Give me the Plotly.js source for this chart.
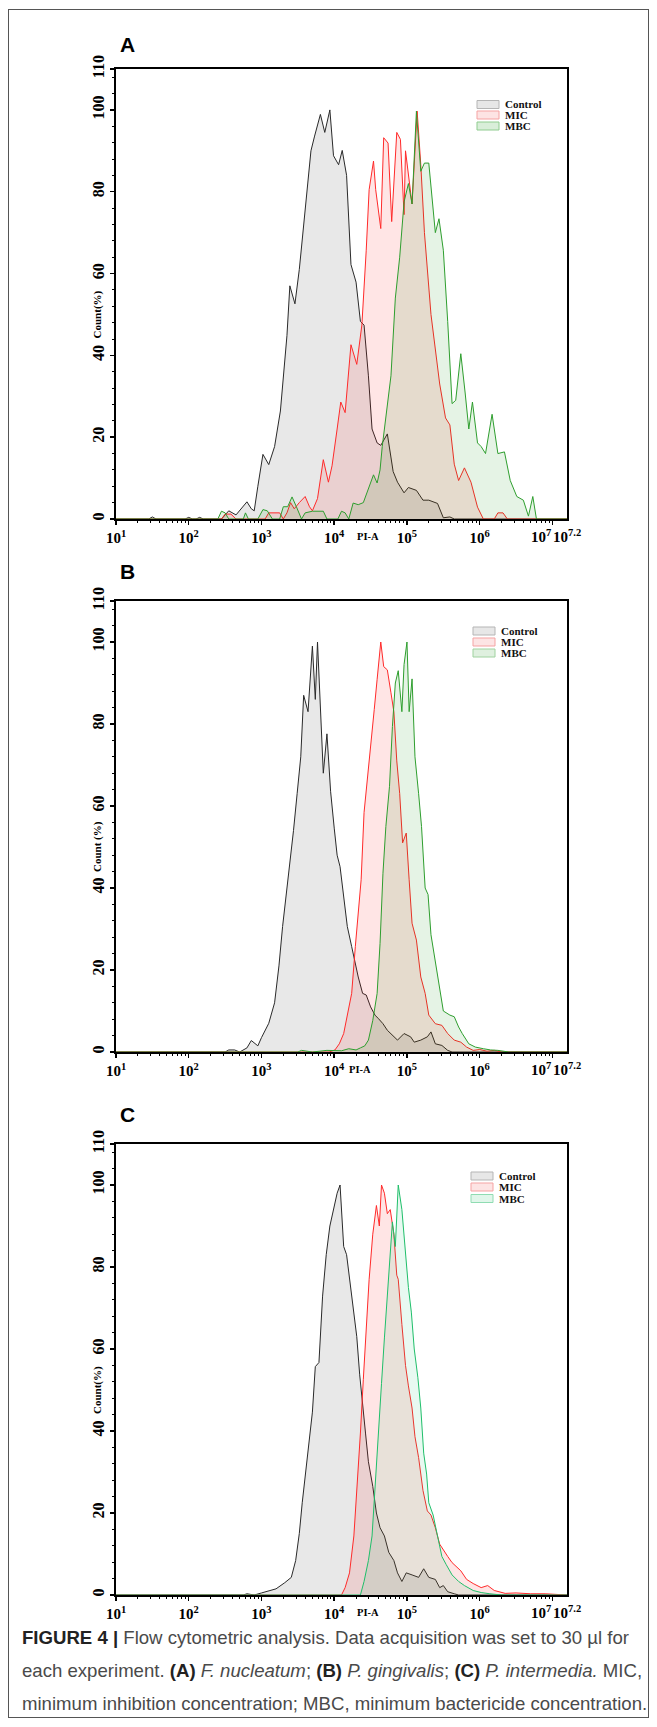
<!DOCTYPE html>
<html><head><meta charset="utf-8">
<script src="https://cdn.plot.ly/plotly-3.0.1.min.js"></script>
<style>
html,body{margin:0;padding:0;background:#fff;}
#wrap{position:relative;width:657px;height:1727px;overflow:hidden;background:#fff;}
#chart{position:absolute;left:0;top:0;width:657px;height:1727px;}
#frame{position:absolute;left:8px;top:9px;width:641px;height:1709px;border:1px solid #555;box-sizing:border-box;pointer-events:none;}
#caption{position:absolute;left:22px;top:1621px;font-family:'Liberation Sans',Arial,sans-serif;font-size:18.6px;line-height:33px;color:#4a4a4a;white-space:nowrap;}
#caption b{color:#222;}
</style></head>
<body><div id="wrap"><div id="chart"></div><div id="frame"></div>
<div id="caption"><b>FIGURE 4 |</b> Flow cytometric analysis. Data acquisition was set to 30 µl for<br>each experiment. <b>(A)</b> <i>F. nucleatum</i>; <b>(B)</b> <i>P. gingivalis</i>; <b>(C)</b> <i>P. intermedia.</i> MIC,<br>minimum inhibition concentration; MBC, minimum bactericide concentration.</div>
</div>
<script>
// ---------- data (x in log10 PI-A units, y in Count %) ----------
const seriesNames = ['Control', 'MIC', 'MBC'];
const panelLetters = ['A', 'B', 'C'];
const yTitles = ['Count(%)', 'Count (%)', 'Count(%)'];
const xTickExps = [1, 2, 3, 4, 5, 6, 7];
const xTickText = ['10<sup>1</sup>', '10<sup>2</sup>', '10<sup>3</sup>', '10<sup>4</sup>', '10<sup>5</sup>', '10<sup>6</sup>', ''];
const xEndLabels = ['10<sup>7</sup>', '10<sup>7.2</sup>'];
const yTickVals = [0, 20, 40, 60, 80, 100, 110];

const A_ctrl_x = [1.0,1.45,1.5,1.55,1.95,2.0,2.05,2.1,2.15,2.2,2.45,2.5,2.55,2.65,2.75,2.8,2.86,2.9,2.95,3.02,3.1,3.18,3.26,3.35,3.39,3.46,3.52,3.6,3.68,3.73,3.81,3.87,3.94,3.99,4.06,4.11,4.17,4.23,4.3,4.36,4.41,4.47,4.52,4.59,4.64,4.73,4.81,4.87,4.96,5.02,5.13,5.22,5.3,5.42,5.5,5.59,5.65,7.2];
const A_ctrl_y = [0,0,0.5,0,0,0.4,0,0,0.4,0,0,1,2,1,3,4.2,2.5,2,8,15.8,13.3,17.7,26.4,44.8,57,52.6,61,75,90,93.6,98.9,94.5,100,88.8,86.6,90.1,84,62.2,57.9,48.3,47.4,35,22,18.6,18,20.8,11.6,9,6.4,7.7,7,4.6,4.6,3.8,0.3,0.5,0,0];
const A_mic_x = [1.0,2.45,2.5,2.58,2.65,3.05,3.1,3.25,3.3,3.35,3.4,3.45,3.52,3.6,3.66,3.7,3.77,3.85,3.92,3.97,4.04,4.09,4.15,4.23,4.31,4.38,4.44,4.48,4.54,4.57,4.64,4.68,4.74,4.79,4.86,4.91,4.96,4.98,5.07,5.14,5.19,5.24,5.33,5.45,5.53,5.59,5.65,5.71,5.79,5.88,5.97,6.05,6.2,6.25,6.32,6.38,7.2];
const A_mic_y = [0,0,1.2,1.2,0,0,1.5,1.5,0,1.5,4,2.5,4,5.5,3,2,5,14.5,9,13,22,28.6,26,42.6,37.8,47.4,65.7,80.5,87.5,80.5,71,93.2,91.9,72.7,94.5,92.8,74.4,90,77,99.7,86.6,70,50,33,24.7,23,13.4,9.4,12.5,9,2.9,0,0,1.5,1.5,0,0];
const A_mbc_x = [1.0,2.4,2.45,2.5,2.55,2.75,2.78,2.82,2.95,3.02,3.08,3.15,3.25,3.3,3.36,3.42,3.48,3.55,3.6,3.7,3.85,3.9,4.05,4.1,4.15,4.2,4.26,4.33,4.4,4.47,4.54,4.59,4.63,4.66,4.73,4.78,4.84,4.9,4.96,5.02,5.07,5.13,5.19,5.24,5.3,5.39,5.44,5.5,5.56,5.62,5.67,5.74,5.8,5.85,5.9,5.97,6.02,6.08,6.17,6.25,6.34,6.42,6.51,6.6,6.67,6.73,6.78,7.2];
const A_mbc_y = [0,0,1.9,1.5,0,0,1.5,0,0,2.3,2,0,0,3,3,5.4,3,0,1.5,1.9,1.9,0,0,1.9,1.5,0,3.9,3.5,4,7.6,10.8,8.8,12,17.7,27,35,54,64,77.5,82,77,99.7,85,87,87,70,73.4,65.7,48.3,28.2,29,40.4,30.8,22,28.6,18.6,17.7,16,25.6,16,16.4,9.4,5.5,4.6,0.7,5.5,0,0];

const B_ctrl_x = [1.0,2.5,2.55,2.63,2.7,2.8,2.86,2.95,3.0,3.1,3.18,3.24,3.29,3.38,3.44,3.49,3.54,3.58,3.64,3.7,3.74,3.77,3.81,3.85,3.9,3.95,4.0,4.04,4.08,4.13,4.18,4.24,4.29,4.33,4.39,4.44,4.5,4.56,4.61,4.67,4.73,4.78,4.87,4.96,5.05,5.1,5.19,5.28,5.33,5.39,5.48,5.56,5.62,7.2];
const B_ctrl_y = [0,0,0.5,0.5,0,1,2.8,1.5,3.5,7,12,21,30.6,44.4,54,63,72,87,83,99,86,100,83.7,68,77.6,63.6,54.6,48,45.2,37.9,30.6,25.7,21.6,18.3,14.3,13.9,11,9,8.1,6.9,5.3,4.5,2.9,4.5,3.7,2.4,2.9,3.7,4.9,2,1.6,0.4,0,0];
const B_mic_x = [1.0,3.93,4.01,4.07,4.13,4.18,4.24,4.29,4.33,4.37,4.41,4.46,4.5,4.55,4.59,4.62,4.64,4.68,4.73,4.78,4.82,4.86,4.9,4.94,4.99,5.03,5.07,5.13,5.19,5.25,5.3,5.39,5.48,5.56,5.65,5.74,5.82,5.91,6.0,6.1,6.2,6.3,7.2];
const B_mic_y = [0,0,0.5,2,4.5,8.6,14.3,25.7,33.8,42,58.4,68,74.6,83.5,90.9,95.8,100,94,93.2,87.6,83,71,63,51,53.4,42,31.4,27.3,18.3,14.3,9,6.9,6.5,4.5,2.9,2.4,1.2,0.4,0.6,0.2,0.4,0,0];
const B_mbc_x = [1.0,3.5,3.55,3.7,3.9,4.1,4.2,4.3,4.36,4.42,4.47,4.53,4.59,4.63,4.67,4.71,4.76,4.8,4.84,4.88,4.93,4.96,5.0,5.03,5.07,5.11,5.16,5.2,5.25,5.29,5.33,5.39,5.45,5.5,5.59,5.65,5.71,5.76,5.85,5.94,6.05,6.15,6.25,6.4,7.2];
const B_mbc_y = [0,0,0.4,0,0.4,0.3,0.8,0.5,1,1.5,2.9,7.7,14.3,26.5,43.6,55,64.8,79.4,90,93,83,94.5,100,83,91,72,63,55,40,38.4,28.6,22,15,10,9,8.6,6.1,4.5,2,1.2,0.8,0.5,0.4,0,0];

const C_ctrl_x = [1.0,2.75,2.8,2.9,3.0,3.09,3.2,3.32,3.41,3.47,3.52,3.56,3.64,3.7,3.74,3.79,3.84,3.89,3.94,3.98,4.04,4.08,4.13,4.17,4.23,4.27,4.31,4.35,4.39,4.43,4.47,4.53,4.58,4.63,4.69,4.75,4.82,4.87,4.93,4.99,5.07,5.16,5.23,5.3,5.39,5.45,5.5,5.56,5.65,5.71,7.2];
const C_ctrl_y = [0,0,0.3,0,0.5,1,1.5,3,4.3,8.4,15,22.5,34.6,44.6,55.7,56.7,72.9,83,90,93.5,98,100,85,83,75,69,63,53.7,45.6,39.5,32.5,26.5,20,16.4,14.4,10.4,8.4,5.4,3.3,5.4,4.9,4.3,6.4,4.3,3.8,1.8,2.3,0.8,0.3,0,0];
const C_mic_x = [1.0,4.1,4.15,4.21,4.27,4.31,4.36,4.4,4.44,4.48,4.53,4.58,4.62,4.65,4.69,4.73,4.77,4.82,4.86,4.88,4.93,4.98,5.02,5.07,5.11,5.16,5.22,5.28,5.33,5.39,5.45,5.5,5.56,5.62,5.68,5.74,5.82,5.91,6.02,6.11,6.2,6.35,6.5,6.7,6.9,7.2];
const C_mic_y = [0,0,1.8,5.4,14.4,24.5,39.5,52.6,65,77,88,95,90,100,98,93,94,88,78,77,66,56,51,45.6,38.6,33.5,25.5,20.5,19.5,16.4,12.4,10.9,9.4,7.9,6.9,5.9,3.8,2.8,1.8,2.3,1.1,0.4,0.5,0.3,0.3,0];
const C_mbc_x = [1.0,4.36,4.41,4.47,4.52,4.56,4.61,4.65,4.69,4.73,4.77,4.8,4.84,4.88,4.93,4.97,5.02,5.06,5.1,5.15,5.19,5.23,5.27,5.3,5.36,5.42,5.48,5.54,5.62,5.71,5.79,5.91,6.02,6.14,6.3,7.2];
const C_mbc_y = [0,0,3.3,8.4,14.4,26.5,39.5,51.6,62.7,72.9,82,91,85,100,94,85,75,69,60,53,45.6,34.6,29.5,22.5,19.5,14.4,9.4,7.4,4.9,3.3,2.3,1.1,0.6,0.3,0,0];

// ---------- styling / layout ----------
const W = 657, H = 1727;
const fx = p => p / W, fy = p => 1 - p / H;
const plotL = 116, plotR = 567;
const panels = [
  {top: 69, bot: 519, letterY: 45, piA: 4.47, leg: {x: 477, rows: [35.5, 46, 57]},
   data: [[A_ctrl_x, A_ctrl_y], [A_mic_x, A_mic_y], [A_mbc_x, A_mbc_y]], mbcLine: '#2e9e2e', mbcFill: 'rgba(0,140,0,0.10)', mbcSw: '#d9eed9', mbcSwL: '#8fcc8f'},
  {top: 601, bot: 1052, letterY: 572, piA: 4.36, leg: {x: 473, rows: [30, 41, 52]},
   data: [[B_ctrl_x, B_ctrl_y], [B_mic_x, B_mic_y], [B_mbc_x, B_mbc_y]], mbcLine: '#2e9e2e', mbcFill: 'rgba(0,140,0,0.10)', mbcSw: '#dff0df', mbcSwL: '#9fd29f'},
  {top: 1144, bot: 1595, letterY: 1114, piA: 4.46, leg: {x: 471, rows: [32, 43, 54.5]},
   data: [[C_ctrl_x, C_ctrl_y], [C_mic_x, C_mic_y], [C_mbc_x, C_mbc_y]], mbcLine: '#1fbf6a', mbcFill: 'rgba(0,190,100,0.09)', mbcSw: '#e0f6ea', mbcSwL: '#8fdcb2'}
];
const ctrlLine = '#2a2a2a', ctrlFill = 'rgba(120,120,120,0.17)';
const micLine = '#ff2a2a', micFill = 'rgba(255,0,0,0.10)';
const serif = 'Liberation Serif, Times New Roman, serif';

const xMinor = [];
for (let k = 1; k <= 7; k++) for (let m = 2; m <= 9; m++) {
  const v = m * Math.pow(10, k);
  if (Math.log10(v) < 7.2) xMinor.push(v);
}
const yMinor = [];
for (let v = 4; v < 110; v += 4) if (v % 20 !== 0) yMinor.push(v);

const traces = [];
const layout = {
  width: W, height: H, margin: {l: 0, r: 0, t: 0, b: 0},
  paper_bgcolor: 'rgba(0,0,0,0)', plot_bgcolor: 'rgba(0,0,0,0)',
  showlegend: false, annotations: [], shapes: []
};

panels.forEach((p, i) => {
  const sx = i === 0 ? '' : String(i + 1);
  const xa = 'x' + sx, ya = 'y' + sx;
  const lines = [ctrlLine, micLine, p.mbcLine];
  const fills = [ctrlFill, micFill, p.mbcFill];
  p.data.forEach((d, j) => {
    traces.push({
      type: 'scatter', mode: 'lines', name: seriesNames[j],
      x: d[0].map(v => Math.pow(10, v)), y: d[1],
      xaxis: xa, yaxis: ya, fill: 'tozeroy', fillcolor: fills[j],
      line: {color: lines[j], width: 1}, hoverinfo: 'skip'
    });
  });
  layout['xaxis' + sx] = {
    type: 'log', range: [1, 7.2], domain: [fx(plotL), fx(plotR)], anchor: ya,
    showline: true, mirror: true, linecolor: '#000', linewidth: 2,
    showgrid: false, zeroline: false, automargin: false,
    tickmode: 'array', tickvals: xTickExps.map(e => Math.pow(10, e)), ticktext: xTickText,
    ticks: 'outside', ticklen: 4, tickwidth: 1.5, tickcolor: '#000', tickangle: 0,
    tickfont: {family: serif, size: 15, color: '#000', weight: 'bold'},
    minor: {tickmode: 'array', tickvals: xMinor, ticks: 'outside', ticklen: 2, tickwidth: 1, tickcolor: '#000', showgrid: false}
  };
  layout['yaxis' + sx] = {
    range: [0, 110], domain: [fy(p.bot), fy(p.top)], anchor: xa,
    showline: true, mirror: true, linecolor: '#000', linewidth: 2,
    showgrid: false, zeroline: false, automargin: false,
    tickmode: 'array', tickvals: yTickVals, ticktext: yTickVals.map(String),
    ticks: 'outside', ticklen: 4, tickwidth: 1.5, tickcolor: '#000', tickangle: -90,
    tickfont: {family: serif, size: 16, color: '#000', weight: 'bold'},
    minor: {tickmode: 'array', tickvals: yMinor, ticks: 'outside', ticklen: 2, tickwidth: 1, tickcolor: '#000', showgrid: false}
  };
  // end-of-axis tick labels 10^7 and 10^7.2, set side by side as in the figure
  layout.annotations.push({text: '<b>' + xEndLabels[0] + '</b>', xref: xa, yref: 'paper',
    x: 7, y: fy(p.bot + 6), xanchor: 'right', yanchor: 'top', xshift: 1, showarrow: false,
    font: {family: serif, size: 15, color: '#000'}});
  layout.annotations.push({text: '<b>' + xEndLabels[1] + '</b>', xref: xa, yref: 'paper',
    x: 7, y: fy(p.bot + 6), xanchor: 'left', yanchor: 'top', xshift: -1, showarrow: false,
    font: {family: serif, size: 15, color: '#000'}});
  // panel letter
  layout.annotations.push({text: '<b>' + panelLetters[i] + '</b>', xref: 'paper', yref: 'paper',
    x: fx(127), y: fy(p.letterY), xanchor: 'center', yanchor: 'middle', showarrow: false,
    font: {family: 'Liberation Sans, Arial, sans-serif', size: 21, color: '#000'}});
  // y title
  layout.annotations.push({text: '<b>' + yTitles[i] + '</b>', xref: 'paper', yref: ya,
    x: fx(97), y: 50, xanchor: 'center', yanchor: 'middle', textangle: -90, showarrow: false,
    font: {family: serif, size: 11, color: '#000'}});
  // x title
  layout.annotations.push({text: '<b>PI-A</b>', xref: xa, yref: 'paper',
    x: p.piA, y: fy(p.bot + 17), xanchor: 'center', yanchor: 'middle', showarrow: false,
    font: {family: serif, size: 10.5, color: '#000'}});
  // legend
  const swF = ['#e7e7e7', '#fde4e4', p.mbcSw];
  const swL = ['#b5b5b5', '#f5a3a3', p.mbcSwL];
  seriesNames.forEach((n, j) => {
    const cy = p.top + p.leg.rows[j];
    layout.shapes.push({type: 'rect', xref: 'paper', yref: 'paper',
      x0: fx(p.leg.x), x1: fx(p.leg.x + 22), y0: fy(cy - 4), y1: fy(cy + 4),
      fillcolor: swF[j], line: {color: swL[j], width: 1}});
    layout.annotations.push({text: '<b>' + n + '</b>', xref: 'paper', yref: 'paper',
      x: fx(p.leg.x + 26), y: fy(cy), xanchor: 'left', yanchor: 'middle', showarrow: false,
      font: {family: serif, size: 11, color: '#111'}});
  });
});

Plotly.newPlot('chart', traces, layout, {staticPlot: true, displayModeBar: false});
</script>
</body></html>
